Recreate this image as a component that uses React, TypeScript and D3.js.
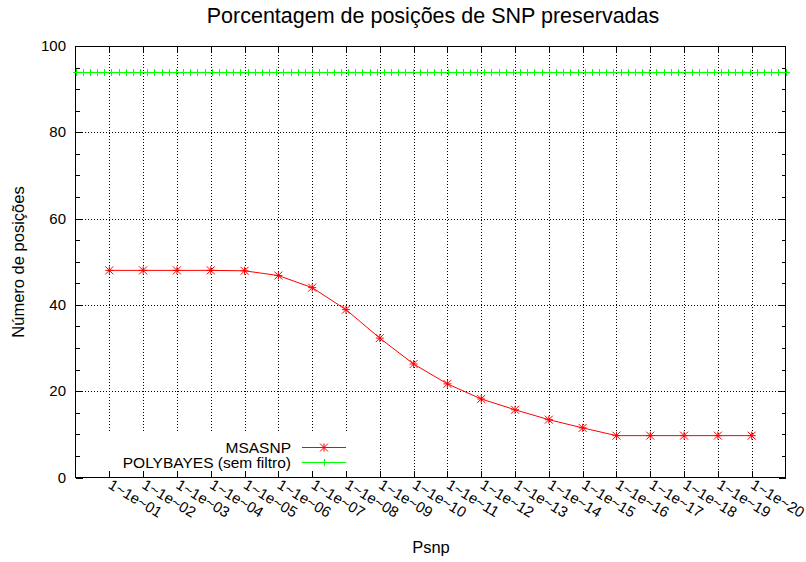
import React from "react";
import * as d3 from "d3";

const CATEGORIES = [
  "1~1e~01", "1~1e~02", "1~1e~03", "1~1e~04", "1~1e~05",
  "1~1e~06", "1~1e~07", "1~1e~08", "1~1e~09", "1~1e~10",
  "1~1e~11", "1~1e~12", "1~1e~13", "1~1e~14", "1~1e~15",
  "1~1e~16", "1~1e~17", "1~1e~18", "1~1e~19", "1~1e~20",
];
const MSASNP = [
  48, 48, 48, 48, 47.9, 46.8, 44.0, 38.9, 32.3, 26.3,
  21.7, 18.2, 15.7, 13.4, 11.5, 9.7, 9.7, 9.7, 9.7, 9.7,
];
// POLYBAYES (sem filtro): constant level, sampled across the whole x range
const POLYBAYES_VALUE = 94;
const POLYBAYES_SAMPLES = 100;
const Y_TICKS = [0, 20, 40, 60, 80, 100];
const Y_MINOR_STEP = 5;

const TITLE = "Porcentagem de posições de SNP preservadas";
const X_LABEL = "Psnp";
const Y_LABEL = "Número de posições";
const LEGEND = ["MSASNP", "POLYBAYES (sem filtro)"];

const W = 806, H = 562;
const L = 75.5, R = 785.5, T = 46, B = 477.5;
const FONT = "'Liberation Sans', Arial, Helvetica, sans-serif";

export default function App() {
  const x = d3.scaleLinear().domain([0, CATEGORIES.length + 1]).range([L, R]);
  const y = d3.scaleLinear().domain([0, 100]).range([B, T]);

  const minor: number[] = d3.range(0, 100 + 0.001, Y_MINOR_STEP).filter((v) => !Y_TICKS.includes(v));
  const line = d3.line<number>().x((_, i) => x(i + 1)).y((d) => y(d));
  const gSamples = d3.range(POLYBAYES_SAMPLES).map((i) => (i * (CATEGORIES.length + 1)) / (POLYBAYES_SAMPLES - 1));

  const star = (cx: number, cy: number, k: string) => {
    const s = 4;
    return (
      <g key={k} stroke="#ff0000" strokeWidth={1}>
        <line x1={cx - s} x2={cx + s} y1={cy} y2={cy} />
        <line x1={cx} x2={cx} y1={cy - s} y2={cy + s} />
        <line x1={cx - s} x2={cx + s} y1={cy - s} y2={cy + s} />
        <line x1={cx - s} x2={cx + s} y1={cy + s} y2={cy - s} />
      </g>
    );
  };
  const plus = (cx: number, cy: number, k: string) => {
    const s = 3.5;
    return (
      <g key={k} stroke="#00ff00" strokeWidth={1}>
        <line x1={cx - s} x2={cx + s} y1={cy} y2={cy} />
        <line x1={cx} x2={cx} y1={cy - s} y2={cy + s} />
      </g>
    );
  };

  const gy = Math.round(y(POLYBAYES_VALUE)) + 0.5;
  const legX1 = 302, legX2 = 346, legMid = 324;
  const legY1 = 447.5, legY2 = 462.5;

  return (
    <svg width={W} height={H} style={{ position: "absolute", left: 0, top: 0, background: "#fff" }} fontFamily={FONT}>
      <rect x={0} y={0} width={W} height={H} fill="#fff" />
      {/* grid */}
      <g stroke="#000" strokeDasharray="1,2" strokeWidth={1} shapeRendering="crispEdges">
        {Y_TICKS.filter((v) => v > 0).map((v) => (
          <line key={"gy" + v} x1={L} x2={R} y1={Math.round(y(v)) + 0.5} y2={Math.round(y(v)) + 0.5} />
        ))}
        {CATEGORIES.map((c, i) => (
          <line key={"gx" + c} x1={Math.round(x(i + 1)) + 0.5} x2={Math.round(x(i + 1)) + 0.5} y1={T} y2={B} />
        ))}
      </g>
      {/* opaque key box */}
      <rect x={100} y={433} width={258} height={43} fill="#fff" />
      {/* ticks */}
      <g stroke="#000" strokeWidth={1} shapeRendering="crispEdges">
        {Y_TICKS.map((v) => {
          const yy = Math.round(y(v)) + 0.5;
          return (
            <g key={"ty" + v}>
              <line x1={L} x2={L + 7} y1={yy} y2={yy} />
              <line x1={R} x2={R - 7} y1={yy} y2={yy} />
            </g>
          );
        })}
        {minor.map((v) => {
          const yy = Math.round(y(v)) + 0.5;
          return (
            <g key={"my" + v}>
              <line x1={L} x2={L + 4} y1={yy} y2={yy} />
              <line x1={R} x2={R - 4} y1={yy} y2={yy} />
            </g>
          );
        })}
        {CATEGORIES.map((c, i) => {
          const xx = Math.round(x(i + 1)) + 0.5;
          return (
            <g key={"tx" + c}>
              <line x1={xx} x2={xx} y1={B} y2={B - 7} />
              <line x1={xx} x2={xx} y1={T} y2={T + 7} />
            </g>
          );
        })}
        <rect x={L} y={T} width={R - L} height={B - T} fill="none" />
      </g>
      {/* tick labels */}
      <g fontSize={15} fill="#000">
        {Y_TICKS.map((v) => (
          <text key={"ly" + v} x={66} y={y(v) + 5} textAnchor="end">{v}</text>
        ))}
        {CATEGORIES.map((c, i) => (
          <text key={"lx" + c} transform={`translate(${x(i + 1) - 2},${B + 10}) rotate(31)`} textAnchor="start">{c}</text>
        ))}
      </g>
      {/* series */}
      <path d={line(MSASNP) || ""} fill="none" stroke="#ff0000" strokeWidth={1} />
      {MSASNP.map((v, i) => star(x(i + 1), y(v), "s" + i))}
      <line x1={L} x2={R} y1={gy} y2={gy} stroke="#00ff00" strokeWidth={1} />
      {gSamples.map((v, i) => plus(Math.round(x(v)) + 0.5, gy, "p" + i))}
      {/* legend */}
      <g fontSize={15.5} fill="#000" textAnchor="end">
        <text x={291} y={legY1 + 5}>{LEGEND[0]}</text>
        <text x={291} y={legY2 + 5.5}>{LEGEND[1]}</text>
      </g>
      <line x1={legX1} x2={legX2} y1={legY1} y2={legY1} stroke="#ff0000" />
      {star(legMid, legY1, "ls")}
      <line x1={legX1} x2={legX2} y1={legY2} y2={legY2} stroke="#00ff00" />
      {plus(legMid + 0.5, legY2, "lp")}
      {/* labels */}
      <text x={433} y={23} textAnchor="middle" fontSize={21.5}>{TITLE}</text>
      <text x={431} y={553} textAnchor="middle" fontSize={16.5}>{X_LABEL}</text>
      <text transform={`translate(24,262) rotate(-90)`} textAnchor="middle" fontSize={16.5}>{Y_LABEL}</text>
    </svg>
  );
}
